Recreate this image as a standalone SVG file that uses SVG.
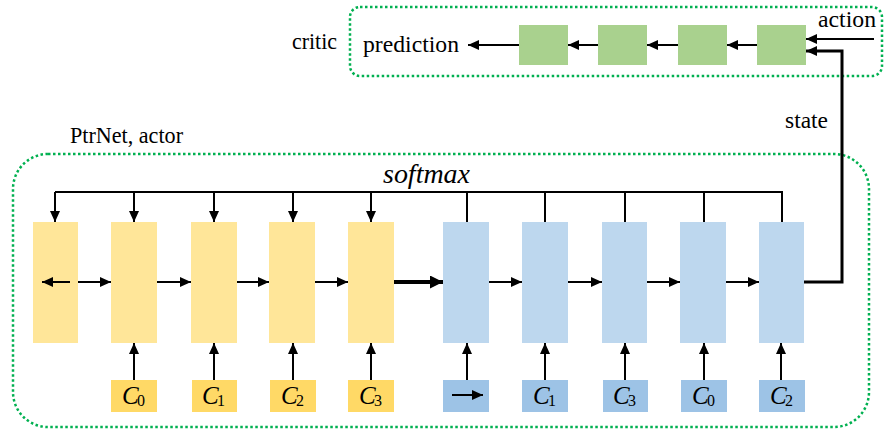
<svg xmlns="http://www.w3.org/2000/svg" width="884" height="430" viewBox="0 0 884 430">
<style>
text{font-family:"Times New Roman","Liberation Serif","Noto Serif","DejaVu Serif",serif;fill:#000}
.lbl{font-size:23px}
.ci{font-style:italic;font-size:25px}
.sub{font-size:16px}
.yb{fill:#FFE699}.ys{fill:#FFD966}.bb{fill:#BDD7EE}.bs{fill:#9DC3E6}.gb{fill:#A9D18E}
.ln{stroke:#000;stroke-width:2;fill:none}
.dot{fill:none;stroke:#00B050;stroke-width:2.5;stroke-dasharray:2.5 2.5}
</style>
<defs>
<marker id="ah" markerUnits="userSpaceOnUse" markerWidth="11" markerHeight="10" refX="11" refY="5" orient="auto"><path d="M0,0 L11,5 L0,10 z" fill="#000"/></marker>
<marker id="ahb" markerUnits="userSpaceOnUse" markerWidth="13" markerHeight="13" refX="13" refY="6.5" orient="auto"><path d="M0,0 L13,6.5 L0,13 z" fill="#000"/></marker>
</defs>
<g id="frames">
<rect class="dot" x="350" y="7" width="532" height="69" rx="10"/>
<rect class="dot" x="13" y="154" width="856" height="273" rx="35"/>
</g>
<g id="labels">
<text class="lbl" x="292" y="49" textLength="45" lengthAdjust="spacingAndGlyphs">critic</text>
<text class="lbl" x="363" y="52" textLength="96" lengthAdjust="spacingAndGlyphs">prediction</text>
<text class="lbl" x="818" y="27" textLength="58" lengthAdjust="spacingAndGlyphs">action</text>
<text class="lbl" x="785" y="128" textLength="43" lengthAdjust="spacingAndGlyphs">state</text>
<text class="lbl" x="70" y="143" textLength="113" lengthAdjust="spacingAndGlyphs">PtrNet, actor</text>
<text class="lbl" x="383" y="183" style="font-style:italic;font-size:27px" textLength="87" lengthAdjust="spacingAndGlyphs">softmax</text>
</g>
<g id="critic-nodes">
<rect id="g1" class="gb" x="519" y="25" width="49" height="40"/>
<rect id="g2" class="gb" x="598" y="25" width="49" height="40"/>
<rect id="g3" class="gb" x="678" y="25" width="49" height="40"/>
<rect id="g4" class="gb" x="757" y="25" width="49" height="40"/>
</g>
<g id="encoder">
<rect id="y0" class="yb" x="33" y="222" width="45" height="121"/>
<rect id="y1" class="yb" x="111" y="222" width="46" height="121"/>
<rect id="y2" class="yb" x="191" y="222" width="46" height="121"/>
<rect id="y3" class="yb" x="269" y="222" width="46" height="121"/>
<rect id="y4" class="yb" x="348" y="222" width="46" height="121"/>
</g>
<g id="decoder">
<rect id="b0" class="bb" x="443" y="222" width="46" height="121"/>
<rect id="b1" class="bb" x="522" y="222" width="46" height="121"/>
<rect id="b2" class="bb" x="602" y="222" width="45" height="121"/>
<rect id="b3" class="bb" x="680" y="222" width="46" height="121"/>
<rect id="b4" class="bb" x="759" y="222" width="45" height="121"/>
</g>
<g id="inputs">
<g id="in-y1"><rect class="ys" x="111" y="380" width="46" height="32"/><text class="ci" x="122" y="404">C</text><text class="sub" x="137" y="406">0</text></g>
<g id="in-y2"><rect class="ys" x="192" y="380" width="45" height="32"/><text class="ci" x="202" y="404">C</text><text class="sub" x="217" y="406">1</text></g>
<g id="in-y3"><rect class="ys" x="270" y="380" width="46" height="32"/><text class="ci" x="281" y="404">C</text><text class="sub" x="296" y="406">2</text></g>
<g id="in-y4"><rect class="ys" x="348" y="380" width="46" height="32"/><text class="ci" x="359" y="404">C</text><text class="sub" x="374" y="406">3</text></g>
<g id="in-b0"><rect class="bs" x="443" y="380" width="46" height="32"/><line class="ln" x1="452" y1="395" x2="483" y2="395" marker-end="url(#ah)"/></g>
<g id="in-b1"><rect class="bs" x="522" y="380" width="46" height="32"/><text class="ci" x="533" y="404">C</text><text class="sub" x="548" y="406">1</text></g>
<g id="in-b2"><rect class="bs" x="603" y="380" width="45" height="32"/><text class="ci" x="613" y="404">C</text><text class="sub" x="628" y="406">3</text></g>
<g id="in-b3"><rect class="bs" x="681" y="380" width="46" height="32"/><text class="ci" x="692" y="404">C</text><text class="sub" x="707" y="406">0</text></g>
<g id="in-b4"><rect class="bs" x="759" y="380" width="46" height="32"/><text class="ci" x="770" y="404">C</text><text class="sub" x="785" y="406">2</text></g>
</g>
<g id="connectors">
<polyline class="ln" points="782,222 782,192 55,192"/>
<line class="ln" x1="55" y1="192" x2="55" y2="222" marker-end="url(#ah)"/>
<line class="ln" x1="134" y1="192" x2="134" y2="222" marker-end="url(#ah)"/>
<line class="ln" x1="214" y1="192" x2="214" y2="222" marker-end="url(#ah)"/>
<line class="ln" x1="293" y1="192" x2="293" y2="222" marker-end="url(#ah)"/>
<line class="ln" x1="371" y1="192" x2="371" y2="222" marker-end="url(#ah)"/>
<line class="ln" x1="467" y1="192" x2="467" y2="222"/>
<line class="ln" x1="545" y1="192" x2="545" y2="222"/>
<line class="ln" x1="625" y1="192" x2="625" y2="222"/>
<line class="ln" x1="704" y1="192" x2="704" y2="222"/>
<line class="ln" x1="134" y1="380" x2="134" y2="343" marker-end="url(#ah)"/>
<line class="ln" x1="214" y1="380" x2="214" y2="343" marker-end="url(#ah)"/>
<line class="ln" x1="293" y1="380" x2="293" y2="343" marker-end="url(#ah)"/>
<line class="ln" x1="371" y1="380" x2="371" y2="343" marker-end="url(#ah)"/>
<line class="ln" x1="467" y1="380" x2="467" y2="343" marker-end="url(#ah)"/>
<line class="ln" x1="545" y1="380" x2="545" y2="343" marker-end="url(#ah)"/>
<line class="ln" x1="625" y1="380" x2="625" y2="343" marker-end="url(#ah)"/>
<line class="ln" x1="704" y1="380" x2="704" y2="343" marker-end="url(#ah)"/>
<line class="ln" x1="781" y1="380" x2="781" y2="343" marker-end="url(#ah)"/>
<line class="ln" x1="70" y1="282" x2="42" y2="282" marker-end="url(#ah)"/>
<line class="ln" x1="78" y1="282" x2="111" y2="282" marker-end="url(#ah)"/>
<line class="ln" x1="157" y1="282" x2="191" y2="282" marker-end="url(#ah)"/>
<line class="ln" x1="237" y1="282" x2="269" y2="282" marker-end="url(#ah)"/>
<line class="ln" x1="315" y1="282" x2="348" y2="282" marker-end="url(#ah)"/>
<line x1="394" y1="282" x2="443" y2="282" stroke="#000" stroke-width="4" marker-end="url(#ahb)"/>
<line class="ln" x1="489" y1="282" x2="522" y2="282" marker-end="url(#ah)"/>
<line class="ln" x1="568" y1="282" x2="602" y2="282" marker-end="url(#ah)"/>
<line class="ln" x1="647" y1="282" x2="680" y2="282" marker-end="url(#ah)"/>
<line class="ln" x1="726" y1="282" x2="759" y2="282" marker-end="url(#ah)"/>
<polyline points="804,282 842,282 842,51 806,51" fill="none" stroke="#000" stroke-width="3" marker-end="url(#ah)"/>
<line class="ln" x1="874" y1="39" x2="806" y2="39" marker-end="url(#ah)"/>
<line class="ln" x1="757" y1="45" x2="727" y2="45" marker-end="url(#ah)"/>
<line class="ln" x1="678" y1="45" x2="647" y2="45" marker-end="url(#ah)"/>
<line class="ln" x1="598" y1="45" x2="568" y2="45" marker-end="url(#ah)"/>
<line class="ln" x1="519" y1="45" x2="468" y2="45" marker-end="url(#ah)"/>
</g>
</svg>
